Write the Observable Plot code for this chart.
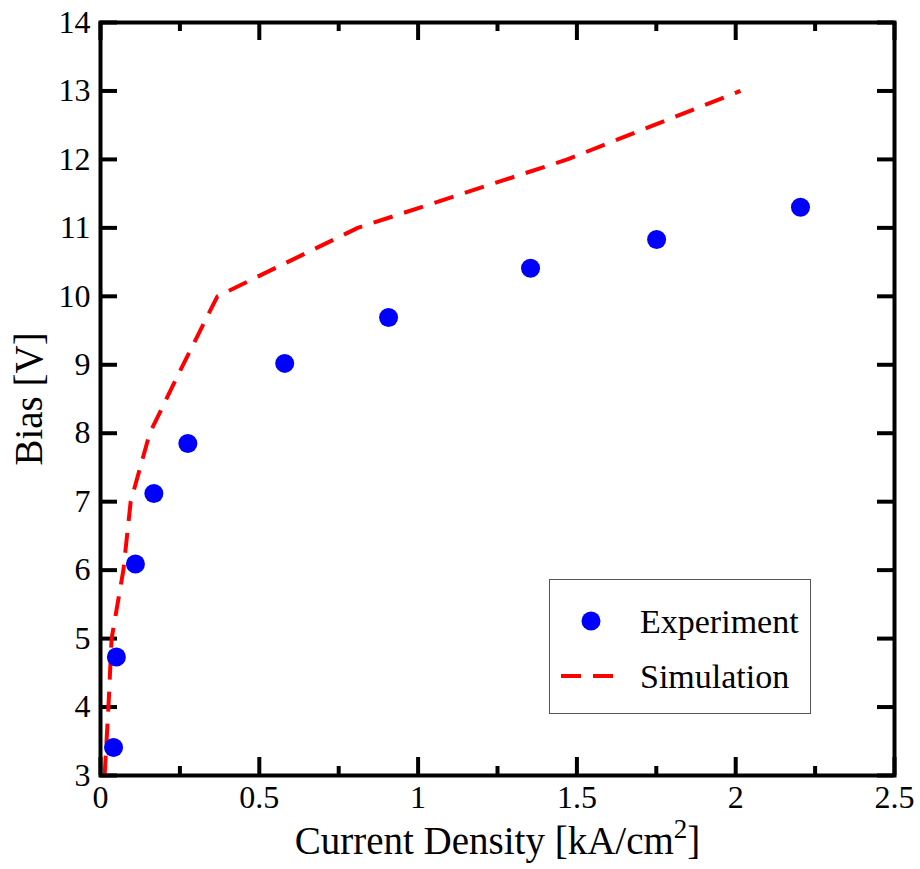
<!DOCTYPE html>
<html>
<head>
<meta charset="utf-8">
<script src="https://cdn.jsdelivr.net/npm/d3@7"></script>
<script src="https://cdn.jsdelivr.net/npm/@observablehq/plot@0.6"></script>
<style>
  html, body { margin: 0; padding: 0; background: #fff; }
  #wrap { position: relative; width: 920px; height: 869px; font-family: "Liberation Serif", "Times New Roman", serif; }
  #legend { position: absolute; left: 549px; top: 579px; width: 262px; height: 135px; box-sizing: border-box; border: 1.5px solid #555; background: #fff; }
</style>
</head>
<body>
<div id="wrap"></div>
<script>
// ---- data ----
const expX = [0.041, 0.05, 0.11, 0.168, 0.275, 0.58, 0.907, 1.354, 1.751, 2.204];
const expY = [3.41, 4.73, 6.09, 7.12, 7.85, 9.02, 9.69, 10.41, 10.83, 11.30];
const simX = [0.013, 0.025, 0.035, 0.072, 0.095, 0.155, 0.26, 0.368, 0.81, 1.47, 2.015];
const simY = [3, 4, 5, 6, 7, 8, 9, 10, 11, 12, 13];
const seriesNames = ["Experiment", "Simulation"];
const xMajorTicks = [0, 0.5, 1, 1.5, 2, 2.5];
const xMinorTicks = [0.25, 0.75, 1.25, 1.75, 2.25];
const yTicks = [3, 4, 5, 6, 7, 8, 9, 10, 11, 12, 13, 14];
const xLabel = "Current Density [kA/cm2]";
const yLabel = "Bias [V]";

const expData = expX.map((x, i) => ({x, y: expY[i]}));
const simData = simX.map((x, i) => ({x, y: simY[i]}));

const W = 920, H = 869;
const mL = 100, mR = 26, mT = 22, mB = 94;
const fw = W - mL - mR, fh = H - mT - mB;
const majorLen = 18, minorLen = 9, yLen = 17;
const black = "#000";

const chart = Plot.plot({
  width: W, height: H,
  marginLeft: mL, marginRight: mR, marginTop: mT, marginBottom: mB,
  style: { fontFamily: "'Liberation Serif', 'Times New Roman', serif", background: "#fff", overflow: "visible" },
  x: { domain: [0, 2.5] },
  y: { domain: [3, 14] },
  marks: [
    // ticks (inward)
    Plot.tickX(xMajorTicks, { x: d => d, insetTop: fh - majorLen, stroke: black, strokeWidth: 4 }),
    Plot.tickX(xMajorTicks, { x: d => d, insetBottom: fh - majorLen, stroke: black, strokeWidth: 4 }),
    Plot.tickX(xMinorTicks, { x: d => d, insetTop: fh - minorLen, stroke: black, strokeWidth: 4 }),
    Plot.tickX(xMinorTicks, { x: d => d, insetBottom: fh - minorLen, stroke: black, strokeWidth: 4 }),
    Plot.tickY(yTicks, { y: d => d, insetRight: fw - yLen, stroke: black, strokeWidth: 4 }),
    Plot.tickY(yTicks, { y: d => d, insetLeft: fw - yLen, stroke: black, strokeWidth: 4 }),
    // tick labels
    Plot.axisX({ ticks: xMajorTicks, tickSize: 0, tickPadding: 10, fontSize: 32, tickFormat: d => String(d), label: null, fill: black }),
    Plot.axisY({ ticks: yTicks, tickSize: 0, tickPadding: 10, fontSize: 32, tickFormat: d => String(d), label: null, fill: black }),
    // data
    Plot.line(simData, { x: "x", y: "y", stroke: "#ff0000", strokeWidth: 4, strokeDasharray: "20,12", strokeLinecap: "butt", strokeLinejoin: "miter" }),
    Plot.dot(expData, { x: "x", y: "y", r: 9.5, fill: "#0000ff", stroke: "none" }),
    // frame
    Plot.frame({ stroke: black, strokeWidth: 4 }),
    // axis titles
    Plot.text([xLabel], { text: d => d, frameAnchor: "bottom", textAnchor: "middle", lineAnchor: "middle", dy: 66, fontSize: 39, fill: black }),
    Plot.text([yLabel], { text: d => d, frameAnchor: "left", textAnchor: "middle", lineAnchor: "middle", rotate: -90, dx: -71, fontSize: 39, fill: black })
  ]
});

// superscript in x label
d3.select(chart).selectAll("text").each(function () {
  if (this.textContent === xLabel) {
    const t = d3.select(this);
    t.text(null);
    t.append("tspan").text("Current Density [kA/cm");
    t.append("tspan").attr("dy", -16).attr("font-size", 27).text("2");
    t.append("tspan").attr("dy", 16).text("]");
  }
});

const wrap = document.getElementById("wrap");
wrap.appendChild(chart);

// legend
const legend = document.createElement("div");
legend.id = "legend";
const ls = d3.create("svg").attr("width", 259).attr("height", 132)
  .style("position", "absolute").style("left", "0").style("top", "0")
  .style("font-family", "'Liberation Serif', 'Times New Roman', serif");
ls.append("circle").attr("cx", 41).attr("cy", 41).attr("r", 9.5).attr("fill", "#0000ff");
ls.append("line").attr("x1", 11).attr("x2", 63).attr("y1", 96).attr("y2", 96)
  .attr("stroke", "#ff0000").attr("stroke-width", 4).attr("stroke-dasharray", "20,12");
ls.append("text").attr("x", 90).attr("y", 41).attr("dy", "0.34em").attr("font-size", 34).text(seriesNames[0]);
ls.append("text").attr("x", 90).attr("y", 96).attr("dy", "0.34em").attr("font-size", 34).text(seriesNames[1]);
legend.appendChild(ls.node());
wrap.appendChild(legend);
</script>
</body>
</html>
